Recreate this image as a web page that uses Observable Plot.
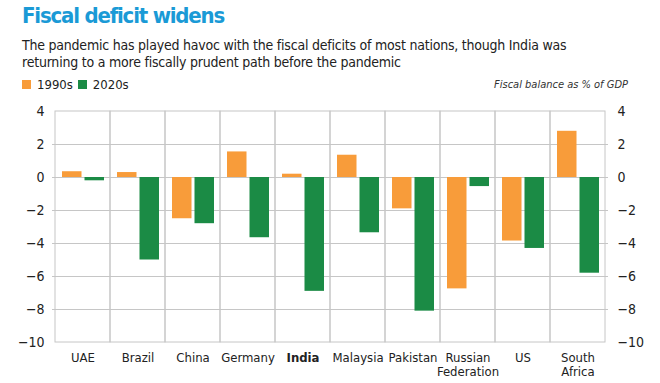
<!DOCTYPE html>
<html>
<head>
<meta charset="utf-8">
<script src="https://cdn.jsdelivr.net/npm/d3@7"></script>
<script src="https://cdn.jsdelivr.net/npm/@observablehq/plot@0.6"></script>
<style>
  html, body { margin: 0; padding: 0; background: #fff; }
  #wrap { position: relative; width: 660px; height: 383px; overflow: hidden;
    font-family: "Liberation Sans Narrow", "DejaVu Sans Condensed", "Roboto Condensed", "Open Sans", sans-serif; color: #222; }
  #title { position: absolute; left: 22px; top: 3px; font-size: 22px; font-weight: bold; color: #1a9ad6; letter-spacing: -1.2px; white-space: nowrap; }
  #subtitle { position: absolute; left: 22px; top: 37px; font-size: 14px; line-height: 17px; color: #222; letter-spacing: -0.22px; white-space: nowrap; }
  #legend { position: absolute; left: 22px; top: 77px; font-size: 13px; display: flex; align-items: center; }
  #legend .sw { display: inline-block; width: 9px; height: 9px; margin-right: 6px; }
  #legend .item { display: flex; align-items: center; margin-right: 5px; }
  #note { position: absolute; right: 32px; top: 78px; font-size: 11px; font-style: italic; color: #333; }
  #chart { position: absolute; left: 0; top: 100px; }
</style>
</head>
<body>
<div id="wrap">
  <div id="title"></div>
  <div id="subtitle"></div>
  <div id="legend"></div>
  <div id="note"></div>
  <div id="chart"></div>
</div>
<script>
const titleText = "Fiscal deficit widens";
const subtitleLines = ["The pandemic has played havoc with the fiscal deficits of most nations, though India was", "returning to a more fiscally prudent path before the pandemic"];
const noteText = "Fiscal balance as % of GDP";
const seriesNames = ["1990s", "2020s"];
const seriesColors = ["#f89c3a", "#1b8b45"];
const countries = ["UAE", "Brazil", "China", "Germany", "India", "Malaysia", "Pakistan", "Russian Federation", "US", "South Africa"];
const countryLabels = ["UAE", "Brazil", "China", "Germany", "India", "Malaysia", "Pakistan", "Russian\nFederation", "US", "South\nAfrica"];
const values1990s = [0.35, 0.3, -2.5, 1.55, 0.2, 1.35, -1.9, -6.75, -3.85, 2.8];
const values2020s = [-0.2, -5.0, -2.8, -3.65, -6.9, -3.35, -8.1, -0.55, -4.3, -5.8];
const yTicks = [-10, -8, -6, -4, -2, 0, 2, 4];

document.getElementById("title").textContent = titleText;
const sub = document.getElementById("subtitle");
subtitleLines.forEach(l => { const d = document.createElement("div"); d.textContent = l; sub.appendChild(d); });
document.getElementById("note").textContent = noteText;
const legend = document.getElementById("legend");
seriesNames.forEach((s, i) => {
  const it = document.createElement("span");
  it.className = "item";
  const sw = document.createElement("span");
  sw.className = "sw";
  sw.style.background = seriesColors[i];
  it.appendChild(sw);
  it.appendChild(document.createTextNode(s));
  legend.appendChild(it);
});

const rows1990 = countries.map((c, i) => ({country: c, value: values1990s[i]}));
const rows2020 = countries.map((c, i) => ({country: c, value: values2020s[i]}));
const labelOf = new Map(countries.map((c, i) => [c, countryLabels[i]]));
const gridY = yTicks.filter(t => t > -10 && t < 4);

const chart = Plot.plot({
  width: 660,
  height: 283,
  marginLeft: 52,
  marginRight: 52,
  marginTop: 11,
  marginBottom: 41,
  style: {fontFamily: "'Liberation Sans Narrow', 'DejaVu Sans Condensed', 'Roboto Condensed', 'Open Sans', sans-serif", fontSize: "14px", color: "#222", background: "#fff"},
  x: {type: "band", domain: countries, padding: 0, label: null},
  y: {domain: [-10, 4], label: null},
  marks: [
    Plot.ruleY(gridY, {stroke: "#c6c6c6", strokeWidth: 1}),
    Plot.barY(countries, {x: d => d, y1: -10, y2: 4, fill: "none", stroke: "#c6c6c6", strokeWidth: 1}),
    Plot.barY(rows1990, {x: "country", y: "value", fill: seriesColors[0], insetLeft: 7, insetRight: 28.5}),
    Plot.barY(rows2020, {x: "country", y: "value", fill: seriesColors[1], insetLeft: 29.5, insetRight: 6}),
    Plot.axisY({anchor: "left", ticks: yTicks, tickSize: 0, tickPadding: 8, label: null, fontSize: 14}),
    Plot.axisY({anchor: "right", ticks: yTicks, tickSize: 0, tickPadding: 9, label: null, fontSize: 14}),
    Plot.axisX({tickSize: 0, tickPadding: 9, label: null, fontSize: 13, lineHeight: 1.1, tickFormat: d => labelOf.get(d)})
  ]
});
chart.querySelectorAll("text").forEach(t => {
  if (t.textContent === "India") t.setAttribute("font-weight", "bold");
});
document.getElementById("chart").appendChild(chart);
</script>
</body>
</html>
